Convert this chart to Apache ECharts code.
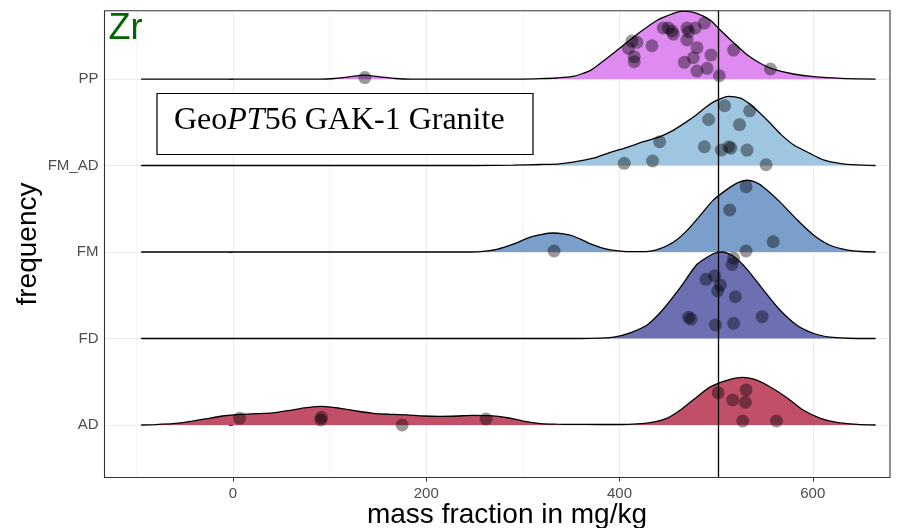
<!DOCTYPE html>
<html>
<head>
<meta charset="utf-8">
<script src="https://cdn.jsdelivr.net/npm/echarts@6/dist/echarts.min.js"></script>
<style>html,body{margin:0;padding:0;background:#fff}#c{width:901px;height:528px}</style>
</head>
<body>
<div id="c"></div>
<script>
// ---- data ----
const categories = ['AD', 'FD', 'FM', 'FM_AD', 'PP'];
const categoryLevels = [1, 2, 3, 4, 5];
const xTicks = [0, 200, 400, 600];
const xMinorTicks = [-100, 100, 300, 500];
const refValue = 502;

// density curves: [mass fraction, ridge height in row units]
const densAD = [[-95,0],[-80,0.005],[-62,0.015],[-45,0.038],[-27,0.073],[-11,0.104],[7,0.124],[25,0.131],[41,0.139],[59,0.17],[76,0.2],[92,0.216],[111,0.193],[128,0.162],[145,0.135],[162,0.124],[180,0.116],[197,0.104],[214,0.1],[232,0.104],[248,0.112],[266,0.108],[284,0.084],[300,0.046],[318,0.017],[335,0.009],[352,0.007],[380,0.006],[401,0.006],[418,0.012],[432,0.027],[449,0.077],[463,0.173],[480,0.324],[494,0.44],[512,0.52],[527,0.55],[539,0.53],[556,0.44],[574,0.31],[590,0.173],[608,0.077],[626,0.027],[646,0.008],[665,0]];
const densFD = [[-95,0],[360,0],[380,0.005],[394,0.015],[411,0.066],[429,0.16],[445,0.335],[463,0.59],[480,0.855],[497,0.98],[507,1.0],[518,0.95],[532,0.80],[549,0.56],[566,0.33],[584,0.15],[601,0.058],[618,0.015],[636,0.003],[665,0]];
const densFM = [[-95,0],[240,0],[256,0.005],[273,0.03],[290,0.09],[307,0.17],[320,0.205],[331,0.22],[342,0.21],[352,0.185],[370,0.095],[387,0.033],[404,0.008],[421,0.004],[432,0.01],[442,0.038],[456,0.115],[470,0.25],[484,0.43],[497,0.60],[512,0.73],[522,0.80],[532,0.83],[540,0.81],[549,0.75],[566,0.58],[584,0.37],[601,0.195],[618,0.078],[636,0.022],[650,0.006],[665,0]];
const densFMAD = [[-95,0],[250,0],[290,0.004],[318,0.012],[338,0.02],[352,0.04],[373,0.085],[390,0.15],[408,0.21],[425,0.275],[442,0.335],[456,0.41],[470,0.51],[480,0.59],[490,0.68],[500,0.75],[513,0.80],[525,0.78],[535,0.71],[545,0.61],[555,0.50],[567,0.36],[580,0.24],[597,0.14],[611,0.065],[629,0.022],[645,0.007],[665,0]];
const densPP = [[-95,0],[90,0],[105,0.006],[120,0.025],[136,0.045],[152,0.025],[168,0.006],[185,0],[300,0],[318,0.004],[335,0.012],[352,0.03],[370,0.1],[387,0.24],[404,0.39],[421,0.54],[439,0.68],[456,0.76],[466,0.786],[480,0.76],[494,0.68],[504,0.57],[518,0.42],[532,0.28],[546,0.18],[559,0.115],[580,0.058],[601,0.027],[629,0.008],[665,0]];

// jittered observations: [mass fraction, vertical jitter in row units]
const ptsAD = [[6.9,0.077],[91.6,0.089],[90.9,0.058],[175.1,0.0],[261.9,0.069],[502.0,0.373],[517.1,0.289],[531.0,0.405],[530.3,0.262],[527.5,0.046],[562.4,0.046]];
const ptsFD = [[518.1,0.927],[516.5,0.858],[498.4,0.726],[489.5,0.684],[504.4,0.618],[501.6,0.549],[519.9,0.483],[471.5,0.245],[474.0,0.225],[499.2,0.156],[518.1,0.176],[547.6,0.252]];
const ptsFM = [[332.3,0.012],[531.0,0.755],[514.0,0.486],[559.0,0.119],[531.0,0.012]];
const ptsFMAD = [[404.9,0.025],[434.2,0.052],[441.5,0.275],[487.8,0.217],[492.2,0.532],[508.8,0.691],[534.7,0.632],[524.2,0.473],[513.0,0.217],[515.2,0.202],[505.4,0.179],[532.0,0.179],[551.7,0.009]];
const ptsPP = [[412.8,0.439],[418.0,0.424],[409.3,0.355],[415.2,0.258],[415.2,0.200],[433.6,0.385],[445.3,0.590],[450.5,0.590],[454.3,0.555],[455.6,0.520],[469.8,0.590],[471.5,0.547],[478.4,0.590],[487.8,0.647],[469.8,0.451],[480.2,0.362],[476.4,0.246],[467.1,0.193],[494.7,0.277],[490.6,0.124],[480.2,0.092],[503.3,0.038],[518.1,0.335],[556.2,0.116],[136.5,0.017]];

const fillColors = ['#C24F68', '#6C70B2', '#7A9FCA', '#9EC6E0', '#DE8AF0'];
const densities = [densAD, densFD, densFM, densFMAD, densPP];
const points = [ptsAD, ptsFD, ptsFM, ptsFMAD, ptsPP];

// ---- chart ----
const chart = echarts.init(document.getElementById('c'), null, {renderer: 'canvas'});
const SANS = "'Liberation Sans', Arial, Helvetica, sans-serif";
const SERIF = "'Liberation Serif', 'Times New Roman', serif";

const series = [];
// draw from top row to bottom row
for (let i = categories.length - 1; i >= 0; i--) {
  const lvl = categoryLevels[i];
  series.push({
    type: 'line',
    name: categories[i],
    data: densities[i].map(d => [d[0], lvl + d[1]]),
    symbol: 'none',
    smooth: 0.2,
    lineStyle: {color: '#000', width: 1.3},
    areaStyle: {color: fillColors[i], opacity: 1, origin: lvl},
    z: 2,
    silent: true
  });
}
for (let i = categories.length - 1; i >= 0; i--) {
  const lvl = categoryLevels[i];
  series.push({
    type: 'scatter',
    name: categories[i] + ' obs',
    data: points[i].map(p => [p[0], lvl + p[1]]),
    symbolSize: 13,
    itemStyle: {color: 'rgba(0,0,0,0.5)'},
    z: 3,
    silent: true
  });
}
series.push({
  type: 'line',
  data: [],
  z: 4,
  markLine: {
    silent: true,
    symbol: 'none',
    label: {show: false},
    lineStyle: {color: '#000', width: 1.3, type: 'solid'},
    data: [{xAxis: refValue}]
  }
});

chart.setOption({
  animation: false,
  backgroundColor: '#fff',
  grid: {left: 104.5, right: 11, top: 10.7, bottom: 50.5, show: true, borderColor: '#333', borderWidth: 1.1, backgroundColor: 'transparent', z: 10},
  xAxis: [{
    type: 'value',
    min: -132.9, max: 679.9,
    axisLine: {show: false},
    axisTick: {show: true, length: 4, lineStyle: {color: '#333', width: 1}, customValues: xTicks},
    axisLabel: {color: '#4D4D4D', fontSize: 15, fontFamily: SANS, margin: 9, customValues: xTicks},
    splitLine: {show: true, lineStyle: {color: '#EBEBEB', width: 1.1}}
  }, {
    type: 'value',
    min: -132.9, max: 679.9,
    position: 'bottom',
    axisLine: {show: false},
    axisTick: {show: false, customValues: xMinorTicks},
    axisLabel: {show: false, customValues: xMinorTicks},
    splitLine: {show: true, lineStyle: {color: '#F0F0F0', width: 0.7}}
  }],
  yAxis: {
    type: 'value',
    min: 0.393, max: 5.79,
    axisLine: {show: false},
    axisTick: {show: true, length: 4, lineStyle: {color: '#333', width: 1}, customValues: categoryLevels},
    axisLabel: {color: '#4D4D4D', fontSize: 15, fontFamily: SANS, margin: 6, customValues: categoryLevels,
      formatter: v => { const k = categoryLevels.indexOf(Math.round(v)); return Math.abs(v - Math.round(v)) < 1e-6 && k >= 0 ? categories[k] : ''; }},
    splitLine: {show: true, lineStyle: {color: '#EBEBEB', width: 1.1}}
  },
  series: series,
  graphic: [
    {type: 'rect', z: 100, shape: {x: 157, y: 93.5, width: 376, height: 61}, style: {fill: '#fff', stroke: '#000', lineWidth: 1.2}},
    {type: 'text', z: 101, x: 174, y: 121, style: {
      text: '{a|Geo}{b|PT}{a|56 GAK-1 Granite}',
      verticalAlign: 'middle', fill: '#000',
      rich: {
        a: {fontFamily: SERIF, fontSize: 32, fill: '#000'},
        b: {fontFamily: SERIF, fontSize: 32, fontStyle: 'italic', fill: '#000'}
      }
    }},
    {type: 'text', z: 101, x: 108.5, y: 29.5, style: {text: 'Zr', fontFamily: SANS, fontSize: 36, fill: '#006400', verticalAlign: 'middle'}},
    {type: 'text', z: 101, x: 507, y: 515, style: {text: 'mass fraction in mg/kg', fontFamily: SANS, fontSize: 28, fill: '#000', align: 'center', verticalAlign: 'middle'}},
    {type: 'text', z: 101, x: 28, y: 244, rotation: Math.PI / 2, style: {text: 'frequency', fontFamily: SANS, fontSize: 28, fill: '#000', align: 'center', verticalAlign: 'middle'}}
  ]
});
</script>
</body>
</html>
